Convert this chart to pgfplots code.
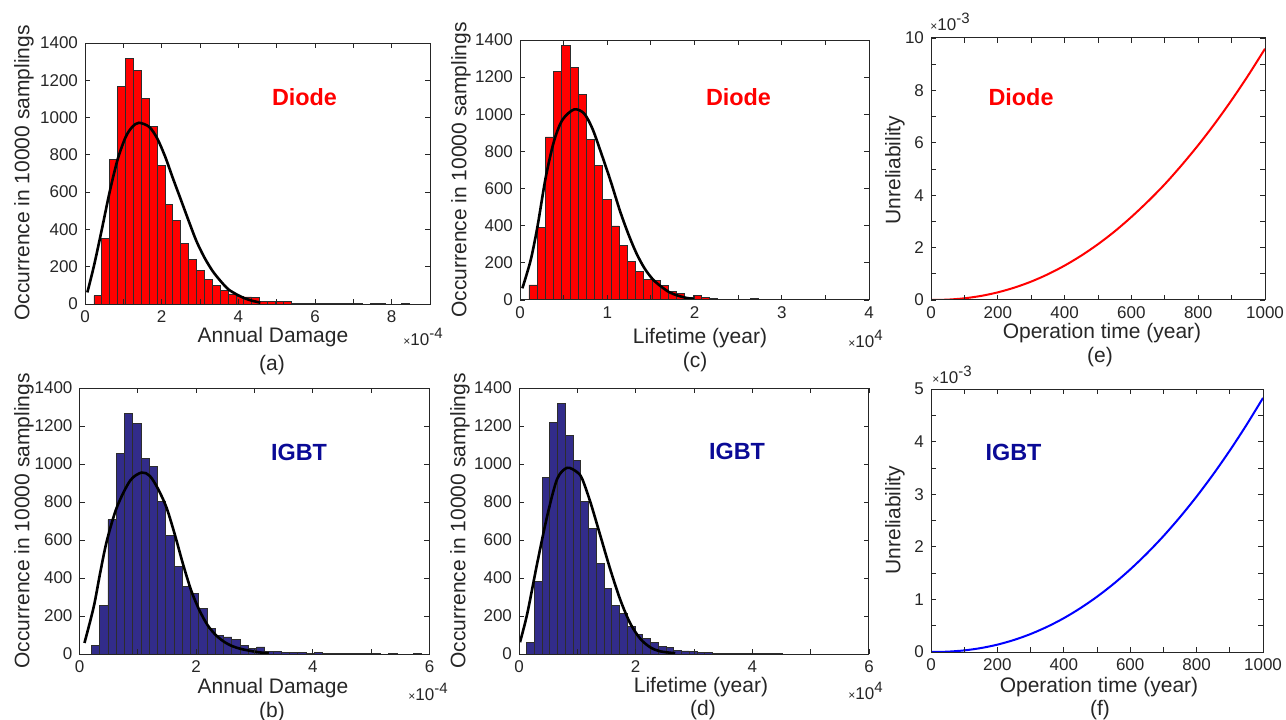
\documentclass[border=0pt]{standalone}
\usepackage{fontspec}
\setmainfont{Liberation Sans}
\usepackage{pgfplots}
\pgfplotsset{compat=1.18}
\definecolor{axgray}{RGB}{38,38,38}
\definecolor{igbtbar}{RGB}{50,44,138}
\definecolor{igbttxt}{RGB}{10,10,150}
\definecolor{edge}{RGB}{45,45,45}
\pgfplotsset{
  mat/.style={scale only axis, anchor=south west, tick align=inside, tick pos=both,
    axis line style={axgray, line width=0.5pt},
    major tick style={axgray, line width=0.4pt}, minor tick style={axgray, line width=0.4pt},
    major tick length=2.6pt, minor tick length=2.6pt,
    ticklabel style={font=\fontsize{8.5}{10}\selectfont, text=axgray},
    /pgf/number format/assume math mode=true,
    /pgf/number format/1000 sep={},
    axis on top},
  hist/.style={mat, ymin=0, ymax=1400, ytick={0,200,...,1400}}
}
\tikzset{
  lab/.style={font=\fontsize{10.5}{12}\selectfont, text=axgray},
  tag/.style={font=\fontsize{11.7}{14}\selectfont\bfseries},
  expo/.style={anchor=west, font=\fontsize{8.5}{10}\selectfont, text=axgray, inner sep=0pt}
}
\begin{document}
\begin{tikzpicture}
\useasboundingbox (0pt,0pt) rectangle (643pt,359.5pt);

% (a)
\begin{axis}[hist, at={(42.5pt,207.5pt)}, width=172.5pt, height=130.5pt,
  xmin=0, xmax=9, xtick={0,2,4,6,8}, minor x tick num=1]
\addplot[ybar interval, fill=red, draw=edge, line width=0.4pt] coordinates {
(0.234,45) (0.4397,350) (0.6454,777) (0.8511,1168) (1.0568,1318) (1.2625,1255) (1.4682,1104) (1.6739,952) (1.8796,741) (2.0853,534)
(2.291,446) (2.4967,327) (2.7024,241) (2.9081,182) (3.1138,134) (3.3195,98) (3.5252,75) (3.7309,54) (3.9366,40) (4.1423,38)
(4.348,37) (4.5537,15) (4.7594,14) (4.9651,13) (5.1708,12) (5.3765,5) (5.5822,4) (5.7879,3) (5.9936,2) (6.1993,2)
(6.405,1) (6.6107,2) (6.8164,1) (7.0221,1) (7.2278,0) (7.4335,1) (7.6392,1) (7.8449,0) (8.0506,0) (8.2563,1) (8.462,0)};
\addplot[black, line width=1.3pt, smooth] coordinates {
(0.061,62) (0.234,205) (0.434,395) (0.642,600) (0.851,775) (1.059,895) (1.233,950) (1.406,972) (1.675,950) (1.884,888)
(2.092,790) (2.292,675) (2.5,560) (2.708,444) (2.908,337) (3.116,249) (3.325,178) (3.533,124) (3.733,80) (3.941,53)
(4.149,32) (4.349,18) (4.575,7)};
\end{axis}

% (c)
\begin{axis}[hist, at={(260pt,209.5pt)}, width=174.5pt, height=130pt,
  xmin=0, xmax=4, xtick={0,1,2,3,4}, minor x tick num=1]
\addplot[ybar interval, fill=red, draw=edge, line width=0.4pt] coordinates {
(0.103,81) (0.197,392) (0.291,878) (0.385,1232) (0.479,1372) (0.573,1253) (0.667,1108) (0.761,864) (0.855,724) (0.949,543)
(1.043,399) (1.137,294) (1.231,209) (1.325,156) (1.419,113) (1.513,104) (1.607,76) (1.701,45) (1.795,33) (1.889,15)
(1.983,23) (2.077,13) (2.171,6) (2.265,4) (2.359,3) (2.453,5) (2.547,3) (2.641,6) (2.735,2) (2.829,2)
(2.923,1) (3.017,1) (3.111,1) (3.205,0) (3.299,1) (3.393,1) (3.487,0) (3.581,0) (3.675,1) (3.769,1) (3.863,0)};
\addplot[black, line width=1.3pt, smooth] coordinates {
(0.027,63) (0.122,214) (0.199,392) (0.294,658) (0.389,854) (0.485,969) (0.619,1026) (0.733,1005) (0.828,925) (0.924,800)
(1.039,640) (1.145,481) (1.241,356) (1.336,250) (1.428,170) (1.523,111) (1.619,72) (1.711,42) (1.806,24) (1.901,12) (1.993,5)};
\end{axis}

% (e)
\begin{axis}[mat, at={(465.5pt,209.5pt)}, width=167pt, height=131pt,
  xmin=0, xmax=1000, ymin=0, ymax=10, xtick={0,200,...,1000}, minor x tick num=1,
  ytick={0,2,...,10}, minor y tick num=1]
\addplot[red, line width=1pt, smooth] coordinates {
(0,0) (50,0.014) (100,0.065) (150,0.156) (200,0.292) (250,0.474) (300,0.703) (350,0.983) (400,1.313) (450,1.695)
(500,2.13) (550,2.62) (600,3.17) (650,3.77) (700,4.42) (750,5.14) (800,5.91) (850,6.74) (900,7.63) (950,8.58) (1000,9.59)};
\end{axis}

% (b)
\begin{axis}[hist, at={(39.75pt,32.5pt)}, width=175pt, height=133pt,
  xmin=0, xmax=6, xtick={0,2,4,6}, minor x tick num=1]
\addplot[ybar interval, fill=igbtbar, draw=edge, line width=0.4pt] coordinates {
(0.204,46) (0.3456,256) (0.4872,707) (0.6288,1057) (0.7704,1267) (0.912,1212) (1.0536,1031) (1.1952,989) (1.3368,801) (1.4784,623)
(1.62,463) (1.7616,355) (1.9032,320) (2.0448,242) (2.1864,134) (2.328,98) (2.4696,90) (2.6112,78) (2.7528,43) (2.8944,29)
(3.036,37) (3.1776,14) (3.3192,12) (3.4608,10) (3.6024,9) (3.744,8) (3.8856,5) (4.0272,6) (4.1688,3) (4.3104,2)
(4.452,2) (4.5936,3) (4.7352,1) (4.8768,1) (5.0184,1) (5.16,0) (5.3016,1) (5.4432,0) (5.5848,0) (5.7264,1) (5.868,0)};
\addplot[black, line width=1.3pt, smooth] coordinates {
(0.085,58) (0.243,247) (0.357,431) (0.470,597) (0.640,772) (0.867,912) (1.065,955) (1.206,937) (1.348,868) (1.490,772)
(1.631,632) (1.773,475) (1.914,335) (2.056,230) (2.198,151) (2.339,99) (2.481,64) (2.622,41) (2.764,27) (2.906,18)
(3.076,9) (3.245,4)};
\end{axis}

% (d)
\begin{axis}[hist, at={(259.5pt,32.5pt)}, width=175pt, height=133pt,
  xmin=0, xmax=6, xtick={0,2,4,6}, minor x tick num=1]
\addplot[ybar interval, fill=igbtbar, draw=edge, line width=0.4pt] coordinates {
(0.131,62) (0.2638,381) (0.3966,931) (0.5294,1220) (0.6622,1321) (0.795,1152) (0.9278,1020) (1.0606,801) (1.1934,660) (1.3262,475)
(1.459,346) (1.5918,257) (1.7246,213) (1.8574,145) (1.9902,101) (2.123,80) (2.2558,62) (2.3886,40) (2.5214,36) (2.6542,18)
(2.787,16) (2.9198,12) (3.0526,9) (3.1854,7) (3.3182,5) (3.451,4) (3.5838,3) (3.7166,3) (3.8494,2) (3.9822,2)
(4.115,1) (4.2478,1) (4.3806,1) (4.5134,0)};
\addplot[black, line width=1.3pt, smooth] coordinates {
(0.017,62) (0.142,213) (0.313,479) (0.484,727) (0.655,922) (0.826,980) (0.997,957) (1.083,922) (1.225,798) (1.396,621)
(1.567,443) (1.738,284) (1.909,160) (2.080,80) (2.251,35) (2.422,14) (2.678,4)};
\end{axis}

% (f)
\begin{axis}[mat, at={(465.5pt,33.5pt)}, width=166pt, height=131.5pt,
  xmin=0, xmax=1000, ymin=0, ymax=5, xtick={0,200,...,1000}, minor x tick num=1,
  ytick={0,1,...,5}, minor y tick num=1]
\addplot[blue, line width=1pt, smooth] coordinates {
(0,0) (50,0.0066) (100,0.0305) (150,0.0745) (200,0.140) (250,0.229) (300,0.342) (350,0.480) (400,0.643) (450,0.834)
(500,1.051) (550,1.296) (600,1.570) (650,1.872) (700,2.203) (750,2.565) (800,2.956) (850,3.378) (900,3.831) (950,4.315) (1000,4.83)};
\end{axis}

% labels
\node[lab, rotate=90] at (12pt,273pt) {Occurrence in 10000 samplings};
\node[lab] at (136.5pt,191pt) {Annual Damage};
\node[lab] at (136pt,177pt) {(a)};
\node[expo] at (201.5pt,191pt) {{\fontsize{6}{7}\selectfont×}10\raisebox{3.5pt}{\fontsize{7.5}{8}\selectfont -4}};
\node[tag, text=red] at (152.25pt,311pt) {Diode};

\node[lab, rotate=90] at (230.5pt,274.5pt) {Occurrence in 10000 samplings};
\node[lab] at (350pt,190.5pt) {Lifetime (year)};
\node[lab] at (347.5pt,178.5pt) {(c)};
\node[expo] at (424pt,190pt) {{\fontsize{6}{7}\selectfont×}10\raisebox{3.5pt}{\fontsize{7.5}{8}\selectfont 4}};
\node[tag, text=red] at (369.25pt,311pt) {Diode};

\node[lab, rotate=90] at (447.5pt,274.5pt) {Unreliability};
\node[lab] at (551pt,193pt) {Operation time (year)};
\node[lab] at (550pt,181pt) {(e)};
\node[expo] at (465pt,348.5pt) {{\fontsize{6}{7}\selectfont×}10\raisebox{3.5pt}{\fontsize{7.5}{8}\selectfont -3}};
\node[tag, text=red] at (510.5pt,311pt) {Diode};

\node[lab, rotate=90] at (12pt,99pt) {Occurrence in 10000 samplings};
\node[lab] at (136.5pt,15.5pt) {Annual Damage};
\node[lab] at (136pt,3.5pt) {(b)};
\node[expo] at (204pt,13.5pt) {{\fontsize{6}{7}\selectfont×}10\raisebox{3.5pt}{\fontsize{7.5}{8}\selectfont -4}};
\node[tag, text=igbttxt] at (149.5pt,133.5pt) {IGBT};

\node[lab, rotate=90] at (230pt,99pt) {Occurrence in 10000 samplings};
\node[lab] at (350.5pt,16pt) {Lifetime (year)};
\node[lab] at (351.5pt,4.5pt) {(d)};
\node[expo] at (424pt,14pt) {{\fontsize{6}{7}\selectfont×}10\raisebox{3.5pt}{\fontsize{7.5}{8}\selectfont 4}};
\node[tag, text=igbttxt] at (368.5pt,134pt) {IGBT};

\node[lab, rotate=90] at (447.5pt,99.5pt) {Unreliability};
\node[lab] at (549.5pt,16pt) {Operation time (year)};
\node[lab] at (550pt,4.5pt) {(f)};
\node[expo] at (466pt,172pt) {{\fontsize{6}{7}\selectfont×}10\raisebox{3.5pt}{\fontsize{7.5}{8}\selectfont -3}};
\node[tag, text=igbttxt] at (506.75pt,133.5pt) {IGBT};
\end{tikzpicture}
\end{document}
